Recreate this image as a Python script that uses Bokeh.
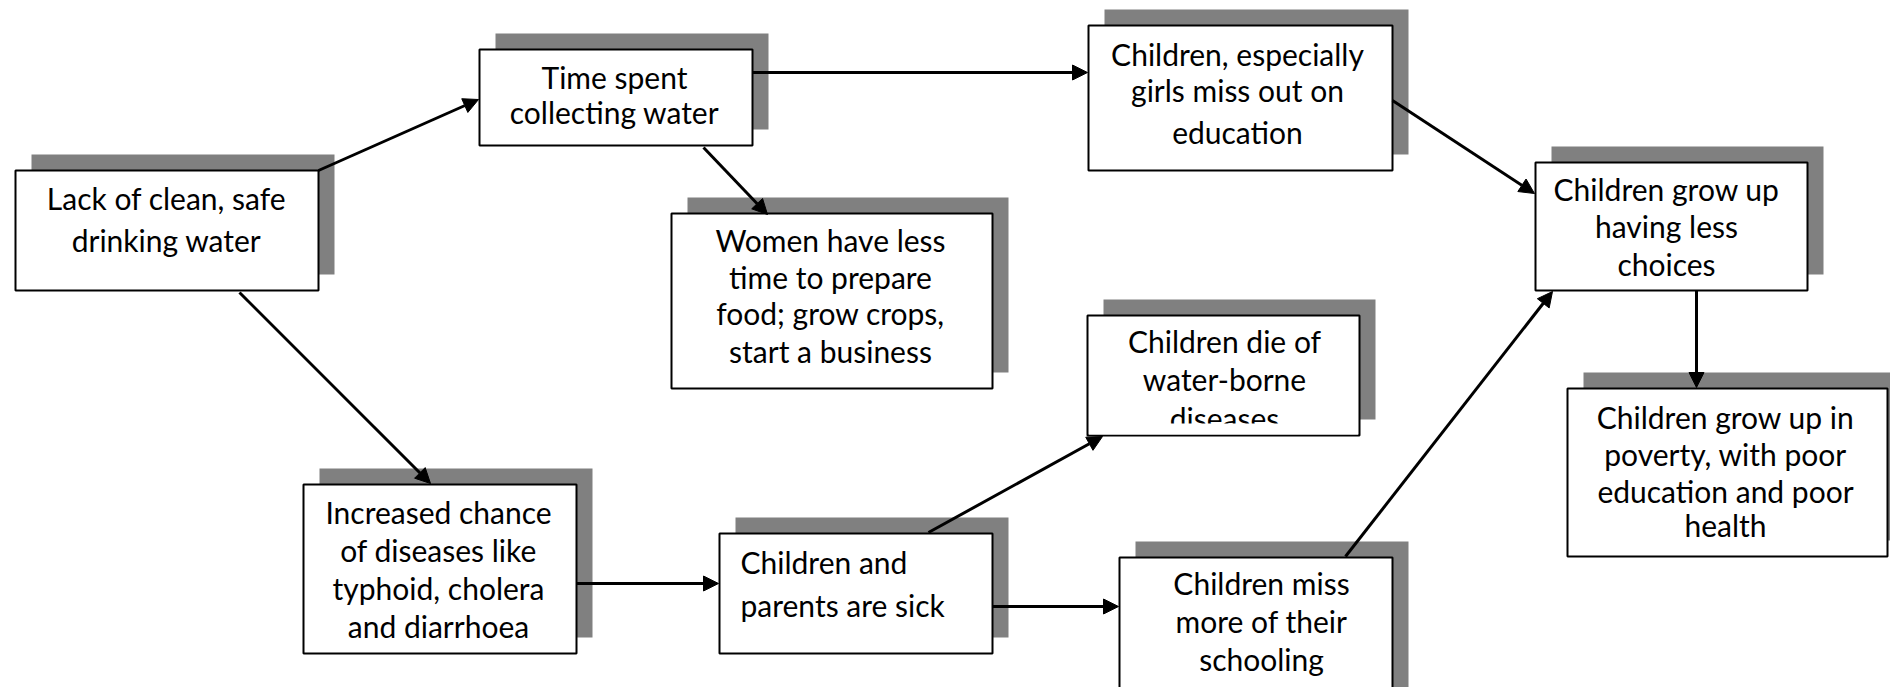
from bokeh.plotting import figure
from bokeh.models import Range1d, ColumnDataSource, Arrow, NormalHead
from bokeh.core.properties import value
from bokeh.embed import file_html
from bokeh.resources import INLINE

# ---- content (data) ----
labels = [
    ["Lack of clean, safe", "drinking water"],
    ["Time spent", "collecting water"],
    ["Women have less", "time to prepare", "food; grow crops,", "start a business"],
    ["Children, especially", "girls miss out on", "education"],
    ["Children grow up", "having less", "choices"],
    ["Children grow up in", "poverty, with poor", "education and poor", "health"],
    ["Increased chance", "of diseases like", "typhoid, cholera", "and diarrhoea"],
    ["Children and", "parents are sick"],
    ["Children die of", "water-borne", "diseases"],
    ["Children miss", "more of their", "schooling"],
]
edges = [(0, 1), (1, 3), (1, 2), (0, 6), (3, 4), (6, 7), (7, 8), (7, 9), (9, 4), (4, 5)]

# ---- layout (page pixel coordinates) ----
boxes = [  # left, top, right, bottom
    (15, 170, 318, 290),
    (479, 49, 752, 145),
    (671, 213, 992, 388),
    (1088, 25, 1392, 170),
    (1535, 162, 1807, 290),
    (1567, 388, 1887, 556),
    (303, 484, 576, 653),
    (719, 533, 992, 653),
    (1087, 315, 1359, 435),
    (1119, 557, 1392, 720),
]
text_x = [166, 614, 830, 1237, 1666, 1725, 438, 740, 1224, 1261]
text_align = ["center"] * 7 + ["left"] + ["center"] * 2
baselines = [
    [197, 239],
    [76, 111],
    [239, 276, 312, 350],
    [53, 89, 131],
    [188, 225, 263],
    [416, 453, 490, 524],
    [511, 549, 587, 625],
    [561, 604],
    [340, 378, 417],
    [582, 620, 658],
]
arrow_pts = [  # x0, y0, x1, y1
    (318, 170, 478, 99),
    (752, 72, 1087, 72),
    (703, 147, 767, 214),
    (239, 292, 430, 483),
    (1392, 100, 1534, 193),
    (576, 583, 718, 583),
    (928, 532, 1102, 436),
    (992, 606, 1118, 606),
    (1345, 556, 1552, 291),
    (1696, 290, 1696, 387),
]
SHADOW_DX, SHADOW_DY = 16, -16
FONT = "Lato"
FONT_SIZE = "30px"

W, H = 1890, 687
p = figure(width=W, height=H, output_backend="svg", toolbar_location=None,
           x_range=Range1d(0, W), y_range=Range1d(H, 0),
           min_border=0, outline_line_color=None)
p.axis.visible = False
p.grid.visible = False
p.background_fill_color = "white"
p.border_fill_color = "white"

L = [b[0] for b in boxes]; T = [b[1] for b in boxes]
R = [b[2] for b in boxes]; B = [b[3] for b in boxes]

p.quad(left=[v + SHADOW_DX for v in L], right=[v + SHADOW_DX for v in R],
       top=[v + SHADOW_DY for v in T], bottom=[v + SHADOW_DY for v in B],
       fill_color="#808080", line_color=None)
p.quad(left=L, right=R, top=T, bottom=B, fill_color="white",
       line_color="black", line_width=2)

for align in ("center", "left"):
    xs, ys, ts = [], [], []
    for i, lines in enumerate(labels):
        if text_align[i] != align:
            continue
        for ln, yb in zip(lines, baselines[i]):
            xs.append(text_x[i]); ys.append(yb); ts.append(ln)
    p.text(x=xs, y=ys, text=ts, text_align=align, text_baseline="alphabetic",
           text_font=value(FONT), text_font_size=FONT_SIZE, text_color="black")

# text of "Children die of water-borne diseases" is clipped by its box
b9 = boxes[8]
p.quad(left=[b9[0] + 1.5], right=[b9[2] - 1.5], top=[b9[3] - 12], bottom=[b9[3] - 1],
       fill_color="white", line_color=None)

src = ColumnDataSource(dict(
    x0=[a[0] for a in arrow_pts], y0=[a[1] for a in arrow_pts],
    x1=[a[2] for a in arrow_pts], y1=[a[3] for a in arrow_pts]))
p.add_layout(Arrow(x_start="x0", y_start="y0", x_end="x1", y_end="y1", source=src,
                   line_width=3, line_color="black",
                   end=NormalHead(size=15, fill_color="black", line_color="black", line_width=1)))

open("out.html", "w").write(file_html(p, INLINE))
